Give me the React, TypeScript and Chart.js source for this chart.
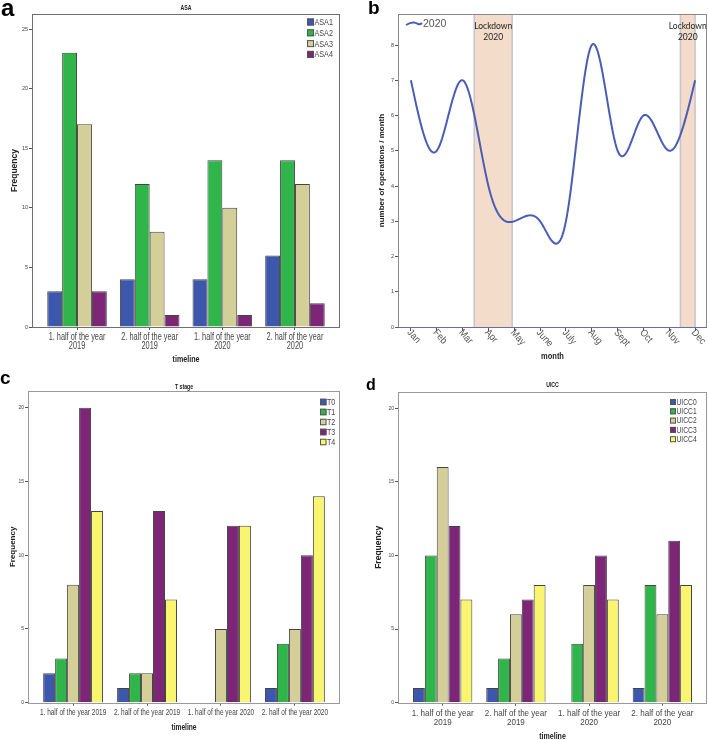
import React, { useEffect, useRef } from 'react';
import { Chart, registerables } from 'chart.js';

Chart.register(...registerables);

// ---------------- data ----------------
const timelineTwoLine = [
  ['1. half of the year', '2019'],
  ['2. half of the year', '2019'],
  ['1. half of the year', '2020'],
  ['2. half of the year', '2020'],
];
const timelineOneLine = [
  '1. half of the year 2019',
  '2. half of the year 2019',
  '1. half of the year 2020',
  '2. half of the year 2020',
];

const asaLabels = ['ASA1', 'ASA2', 'ASA3', 'ASA4'];
const asa1 = [3, 4, 4, 6];
const asa2 = [23, 12, 14, 14];
const asa3 = [17, 8, 10, 12];
const asa4 = [3, 1, 1, 2];

const tLabels = ['T0', 'T1', 'T2', 'T3', 'T4'];
const t0 = [2, 1, 0, 1];
const t1 = [3, 2, 0, 4];
const t2 = [8, 2, 5, 5];
const t3 = [20, 13, 12, 10];
const t4 = [13, 7, 12, 14];

const uiccLabels = ['UICC0', 'UICC1', 'UICC2', 'UICC3', 'UICC4'];
const uicc0 = [1, 1, 0, 1];
const uicc1 = [10, 3, 4, 8];
const uicc2 = [16, 6, 8, 6];
const uicc3 = [12, 7, 10, 11];
const uicc4 = [7, 8, 7, 8];

const months = ['Jan', 'Feb', 'Mar', 'Apr', 'May', 'June', 'July', 'Aug', 'Sept', 'Oct', 'Nov', 'Dec'];
const ops2020 = [7, 5, 7, 4, 3, 3, 3, 8, 5, 6, 5, 7];
const lockdownStart = [2.45, 10.43];
const lockdownEnd = [3.92, 11.0];

// ---------------- styles ----------------
const SANS = "'Liberation Sans', Arial, sans-serif";
const BLUE = '#3D57AC';
const GREEN = '#2FB54A';
const KHAKI = '#D4CF98';
const PURPLE = '#7D2678';
const YELLOW = '#FAF56E';
const BAR_BORDER = '#444444';
const TEXT = '#444444';

function condText(
  ctx: CanvasRenderingContext2D,
  text: string,
  x: number,
  y: number,
  font: string,
  color: string,
  sx = 0.8,
  align: CanvasTextAlign = 'center'
) {
  ctx.save();
  ctx.translate(x, y);
  ctx.scale(sx, 1);
  ctx.font = font;
  ctx.fillStyle = color;
  ctx.textAlign = align;
  ctx.textBaseline = 'middle';
  ctx.fillText(text, 0, 0);
  ctx.restore();
}

type BarPanel = {
  title: string;
  cats: (string | string[])[];
  labels: string[];
  series: number[][];
  colors: string[];
  yMax: number;
  xPad: number;
  catPct: number;
  padding: { left: number; top: number; right: number; bottom: number };
  yWidth: number;
  xHeight: number;
  yTickFont: number;
  xLabelFont: number;
  xLabelSX: number;
  xLabelY0: number;
  xLabelLH: number;
  xTitleFont: number;
  xTitleY: number;
  yTitleFont: number;
  yTitlePad: number;
  titleGap: number;
  frame: string;
  legendRight: number;
  legendTop: number;
  legendStep: number;
  legendFont: number;
  legendBox: number;
};

function barConfig(p: BarPanel): any {
  const decor = {
    id: 'decor',
    afterDraw(chart: any) {
      const { ctx, chartArea: a, scales } = chart;
      const xs = scales.x;
      ctx.save();
      ctx.strokeStyle = p.frame;
      ctx.lineWidth = 1;
      ctx.strokeRect(Math.round(a.left) + 0.5, Math.round(a.top) + 0.5, Math.round(a.right - a.left) - 1, Math.round(a.bottom - a.top));
      // chart title
      condText(ctx, p.title, (a.left + a.right) / 2, a.top - p.titleGap, `bold 6.5px ${SANS}`, '#222');
      // category labels
      p.cats.forEach((cat, i) => {
        const lines = Array.isArray(cat) ? cat : [cat];
        const px = xs.getPixelForValue(i);
        lines.forEach((line, j) => {
          condText(ctx, line, px, a.bottom + p.xLabelY0 + j * p.xLabelLH, `${p.xLabelFont}px ${SANS}`, TEXT, p.xLabelSX);
        });
      });
      // x axis title
      condText(ctx, 'timeline', (a.left + a.right) / 2, a.bottom + p.xTitleY, `bold ${p.xTitleFont}px ${SANS}`, '#222', 0.8);
      // legend
      chart.data.datasets.forEach((ds: any, i: number) => {
        const cy = a.top + p.legendTop + i * p.legendStep;
        const bx = a.right - p.legendRight;
        ctx.fillStyle = ds.backgroundColor;
        ctx.fillRect(bx, cy - p.legendBox / 2, p.legendBox, p.legendBox);
        ctx.strokeStyle = '#555';
        ctx.strokeRect(bx + 0.5, cy - p.legendBox / 2 + 0.5, p.legendBox - 1, p.legendBox - 1);
        condText(ctx, ds.label, bx + p.legendBox + 0.5, cy + 0.5, `${p.legendFont}px ${SANS}`, TEXT, 0.8, 'left');
      });
      ctx.restore();
    },
  };
  return {
    type: 'bar',
    data: {
      datasets: p.series.map((vals, i) => ({
        label: p.labels[i],
        data: vals.map((v, j) => ({ x: j, y: v })),
        backgroundColor: p.colors[i],
        borderColor: BAR_BORDER,
        borderWidth: 1,
        categoryPercentage: p.catPct,
        barPercentage: 1,
      })),
    },
    options: {
      animation: false,
      responsive: false,
      events: [],
      layout: { padding: p.padding },
      plugins: { legend: { display: false }, title: { display: false }, tooltip: { enabled: false } },
      scales: {
        x: {
          type: 'linear',
          offset: false,
          min: -p.xPad,
          max: p.cats.length - 1 + p.xPad,
          afterBuildTicks: (s: any) => {
            s.ticks = p.cats.map((_, i) => ({ value: i }));
          },
          afterFit: (s: any) => {
            s.height = p.xHeight;
          },
          ticks: { autoSkip: false, maxRotation: 0, minRotation: 0, padding: 0, callback: () => '' },
          grid: { display: true, drawOnChartArea: false, drawTicks: true, tickLength: 3, color: '#555', offset: false },
          border: { display: false },
          title: { display: false },
        },
        y: {
          type: 'linear',
          min: 0,
          max: p.yMax,
          afterFit: (s: any) => {
            s.width = p.yWidth;
          },
          ticks: {
            stepSize: 5,
            includeBounds: false,
            padding: 1,
            color: TEXT,
            font: { family: SANS, size: p.yTickFont },
          },
          grid: { display: true, drawOnChartArea: false, drawTicks: true, tickLength: 3, color: '#555' },
          border: { display: false },
          title: {
            display: true,
            text: 'Frequency',
            color: '#222',
            font: { family: SANS, size: p.yTitleFont, weight: 'bold', lineHeight: 1.2 },
            padding: { top: p.yTitlePad, bottom: 0 },
          },
        },
      },
    },
    plugins: [decor],
  };
}

function naturalSpline(ys: number[]): number[] {
  const n = ys.length;
  const M = new Array(n).fill(0);
  if (n < 3) return M;
  const c: number[] = [];
  const d: number[] = [];
  for (let i = 1; i < n - 1; i++) {
    const rhs = 6 * (ys[i - 1] - 2 * ys[i] + ys[i + 1]);
    if (i === 1) {
      c[i] = 1 / 4;
      d[i] = rhs / 4;
    } else {
      const den = 4 - c[i - 1];
      c[i] = 1 / den;
      d[i] = (rhs - d[i - 1]) / den;
    }
  }
  for (let i = n - 2; i >= 1; i--) M[i] = d[i] - c[i] * M[i + 1];
  return M;
}

function lineConfig(): any {
  const decor = {
    id: 'lineDecor',
    beforeDatasetsDraw(chart: any) {
      const { ctx, chartArea: a, scales } = chart;
      const xs = scales.x;
      ctx.save();
      lockdownStart.forEach((s, i) => {
        const x0 = xs.getPixelForValue(s);
        const x1 = xs.getPixelForValue(lockdownEnd[i]);
        ctx.fillStyle = '#F3DCCA';
        ctx.fillRect(x0, a.top, x1 - x0, a.bottom - a.top);
        ctx.strokeStyle = '#C9C3CF';
        ctx.lineWidth = 1.5;
        ctx.beginPath();
        ctx.moveTo(x0, a.top);
        ctx.lineTo(x0, a.bottom);
        ctx.moveTo(x1, a.top);
        ctx.lineTo(x1, a.bottom);
        ctx.stroke();
        ctx.fillStyle = '#222';
        ctx.font = `8.5px Lato, ${SANS}`;
        ctx.textAlign = 'center';
        ctx.textBaseline = 'middle';
        const cx = (x0 + x1) / 2;
        ctx.fillText('Lockdown', cx, a.top + 12);
        ctx.fillText('2020', cx, a.top + 23.5);
      });
      ctx.restore();
    },
    afterDatasetsDraw(chart: any) {
      const { ctx, chartArea: a, scales } = chart;
      const xs = scales.x;
      const ysc = scales.y;
      const pts = chart.data.datasets[0].data as { x: number; y: number }[];
      const yv = pts.map((p) => p.y);
      const M = naturalSpline(yv);
      ctx.save();
      ctx.beginPath();
      ctx.rect(a.left, a.top, a.right - a.left, a.bottom - a.top);
      ctx.clip();
      ctx.strokeStyle = '#4A5CB6';
      ctx.lineWidth = 2;
      ctx.lineJoin = 'round';
      ctx.beginPath();
      const steps = 24;
      for (let i = 0; i < yv.length - 1; i++) {
        for (let k = i === 0 ? 0 : 1; k <= steps; k++) {
          const t = k / steps;
          const u = 1 - t;
          const v = u * yv[i] + t * yv[i + 1] + ((u * u * u - u) * M[i] + (t * t * t - t) * M[i + 1]) / 6;
          const px = xs.getPixelForValue(pts[i].x + t * (pts[i + 1].x - pts[i].x));
          const py = ysc.getPixelForValue(v);
          if (i === 0 && k === 0) ctx.moveTo(px, py);
          else ctx.lineTo(px, py);
        }
      }
      ctx.stroke();
      ctx.restore();
    },
    afterDraw(chart: any) {
      const { ctx, chartArea: a, scales } = chart;
      const xs = scales.x;
      ctx.save();
      // frame
      ctx.lineWidth = 1;
      ctx.strokeStyle = '#8A8A8A';
      ctx.strokeRect(Math.round(a.left) + 0.5, Math.round(a.top) + 0.5, Math.round(a.right - a.left) - 1, Math.round(a.bottom - a.top));
      ctx.strokeStyle = '#6B6BA6';
      ctx.beginPath();
      ctx.moveTo(a.left, Math.round(a.bottom) + 0.5);
      ctx.lineTo(a.right, Math.round(a.bottom) + 0.5);
      ctx.stroke();
      // rotated month labels
      ctx.fillStyle = '#555';
      ctx.font = `10px ${SANS}`;
      ctx.textAlign = 'left';
      ctx.textBaseline = 'middle';
      months.forEach((m, i) => {
        const px = xs.getPixelForValue(i);
        ctx.save();
        ctx.translate(px - 2, a.bottom + 4);
        ctx.rotate((48 * Math.PI) / 180);
        ctx.scale(0.9, 1);
        ctx.fillText(m, 0, 0);
        ctx.restore();
      });
      // x axis title
      condText(ctx, 'month', (a.left + a.right) / 2, a.bottom + 29, `bold 9.4px ${SANS}`, '#222', 0.8);
      // legend
      const lx = a.left + 8;
      const ly = a.top + 10;
      ctx.strokeStyle = '#4A5CB6';
      ctx.lineWidth = 2;
      ctx.beginPath();
      ctx.moveTo(lx, ly + 1);
      ctx.bezierCurveTo(lx + 5, ly - 2, lx + 9, ly - 2, lx + 12, ly);
      ctx.bezierCurveTo(lx + 14, ly + 1, lx + 15, ly, lx + 16, ly - 1);
      ctx.stroke();
      ctx.fillStyle = '#555';
      ctx.font = `10.5px ${SANS}`;
      ctx.textAlign = 'left';
      ctx.fillText(chart.data.datasets[0].label, lx + 17, ly);
      ctx.restore();
    },
  };
  return {
    type: 'line',
    data: {
      datasets: [
        {
          label: '2020',
          data: ops2020.map((v, i) => ({ x: i, y: v })),
          showLine: false,
          pointRadius: 0,
          borderColor: '#4A5CB6',
        },
      ],
    },
    options: {
      animation: false,
      responsive: false,
      events: [],
      layout: { padding: { left: 0, top: 14, right: 1, bottom: 0 } },
      plugins: { legend: { display: false }, title: { display: false }, tooltip: { enabled: false } },
      scales: {
        x: {
          type: 'linear',
          min: -0.5,
          max: 11.46,
          afterBuildTicks: (s: any) => {
            s.ticks = months.map((_, i) => ({ value: i }));
          },
          afterFit: (s: any) => {
            s.height = 43;
          },
          ticks: { callback: () => '', autoSkip: false, maxRotation: 0, padding: 0 },
          grid: { display: true, drawOnChartArea: false, drawTicks: true, tickLength: 4, color: '#555' },
          border: { display: false },
          title: { display: false },
        },
        y: {
          type: 'linear',
          min: 0,
          max: 8.88,
          afterFit: (s: any) => {
            s.width = 44;
          },
          ticks: {
            stepSize: 1,
            includeBounds: false,
            padding: 1,
            color: TEXT,
            font: { family: SANS, size: 5.5 },
          },
          grid: { display: true, drawOnChartArea: false, drawTicks: true, tickLength: 3, color: '#555' },
          border: { display: false },
          title: {
            display: true,
            text: 'number of operations / month',
            color: '#222',
            font: { family: SANS, size: 8, weight: 'bold', lineHeight: 1.2 },
            padding: { top: 23, bottom: 0 },
          },
        },
      },
    },
    plugins: [decor],
  };
}

const panelA: BarPanel = {
  title: 'ASA',
  cats: timelineTwoLine,
  labels: asaLabels,
  series: [asa1, asa2, asa3, asa4],
  colors: [BLUE, GREEN, KHAKI, PURPLE],
  yMax: 26.26,
  xPad: 0.62,
  catPct: 0.82,
  padding: { left: 0, top: 14, right: 14, bottom: 0 },
  yWidth: 32,
  xHeight: 43,
  yTickFont: 5.5,
  xLabelFont: 10.5,
  xLabelSX: 0.7,
  xLabelY0: 10,
  xLabelLH: 9,
  xTitleFont: 8.9,
  xTitleY: 33,
  yTitleFont: 8.5,
  yTitlePad: 10,
  titleGap: 6,
  frame: '#6F6F6F',
  legendRight: 33,
  legendTop: 8,
  legendStep: 10.8,
  legendFont: 9,
  legendBox: 7,
};

const panelC: BarPanel = {
  title: 'T stage',
  cats: timelineOneLine,
  labels: tLabels,
  series: [t0, t1, t2, t3, t4],
  colors: [BLUE, GREEN, KHAKI, PURPLE, YELLOW],
  yMax: 21.13,
  xPad: 0.61,
  catPct: 0.81,
  padding: { left: 0, top: 21, right: 14, bottom: 0 },
  yWidth: 28,
  xHeight: 37.3,
  yTickFont: 5,
  xLabelFont: 9,
  xLabelSX: 0.72,
  xLabelY0: 10.3,
  xLabelLH: 9,
  xTitleFont: 8.3,
  xTitleY: 25.3,
  yTitleFont: 8,
  yTitlePad: 7.8,
  titleGap: 4,
  frame: '#999999',
  legendRight: 20,
  legendTop: 11,
  legendStep: 10,
  legendFont: 8.9,
  legendBox: 6.5,
};

const panelD: BarPanel = {
  title: 'UICC',
  cats: timelineTwoLine,
  labels: uiccLabels,
  series: [uicc0, uicc1, uicc2, uicc3, uicc4],
  colors: [BLUE, GREEN, KHAKI, PURPLE, YELLOW],
  yMax: 21.1,
  xPad: 0.61,
  catPct: 0.81,
  padding: { left: 0, top: 22, right: 1, bottom: 0 },
  yWidth: 44,
  xHeight: 37.3,
  yTickFont: 5,
  xLabelFont: 9.8,
  xLabelSX: 0.82,
  xLabelY0: 10.3,
  xLabelLH: 9,
  xTitleFont: 8.8,
  xTitleY: 33.5,
  yTitleFont: 8.5,
  yTitlePad: 20,
  titleGap: 6.7,
  frame: '#999999',
  legendRight: 37,
  legendTop: 10,
  legendStep: 9.3,
  legendFont: 8.4,
  legendBox: 6,
};

function ChartCanvas({ makeConfig, left, top }: { makeConfig: () => any; left: number; top: number }) {
  const ref = useRef<HTMLCanvasElement | null>(null);
  useEffect(() => {
    if (!ref.current) return;
    const chart = new Chart(ref.current, makeConfig());
    return () => chart.destroy();
  }, [makeConfig]);
  return (
    <canvas
      ref={ref}
      width={354}
      height={370}
      style={{ position: 'absolute', left, top, width: 354, height: 370 }}
    />
  );
}

const cfgA = () => barConfig(panelA);
const cfgB = () => lineConfig();
const cfgC = () => barConfig(panelC);
const cfgD = () => barConfig(panelD);

const letterStyle = (left: number, top: number, size: number): React.CSSProperties => ({
  position: 'absolute',
  left,
  top,
  fontFamily: SANS,
  fontWeight: 'bold',
  fontSize: size,
  lineHeight: 1,
  color: '#000',
});

export default function App() {
  return (
    <div style={{ position: 'fixed', left: 0, top: 0, width: 708, height: 740, background: '#fff', overflow: 'hidden' }}>
      <ChartCanvas makeConfig={cfgA} left={0} top={0} />
      <ChartCanvas makeConfig={cfgB} left={354} top={0} />
      <ChartCanvas makeConfig={cfgC} left={0} top={370} />
      <ChartCanvas makeConfig={cfgD} left={354} top={370} />
      <div style={letterStyle(1, -4, 24)}>a</div>
      <div style={letterStyle(368, -2, 19)}>b</div>
      <div style={letterStyle(0, 368, 19)}>c</div>
      <div style={letterStyle(366, 377, 16)}>d</div>
    </div>
  );
}
